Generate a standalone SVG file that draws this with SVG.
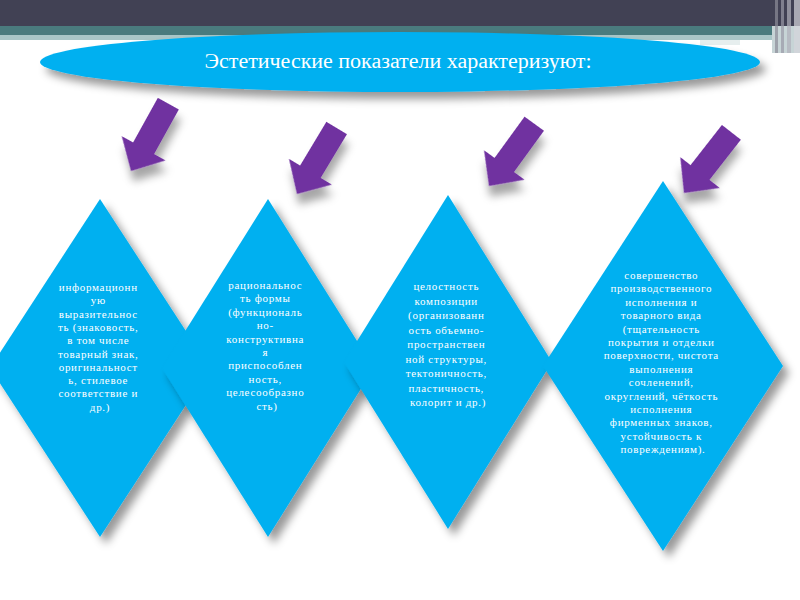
<svg xmlns="http://www.w3.org/2000/svg" width="800" height="600" viewBox="0 0 800 600">
<defs>
<filter id="sh" x="-20%" y="-20%" width="150%" height="150%">
<feDropShadow dx="6" dy="7" stdDeviation="4" flood-color="#000" flood-opacity="0.4"/>
</filter>
<filter id="sha" x="-40%" y="-40%" width="200%" height="200%">
<feDropShadow dx="7" dy="8" stdDeviation="4" flood-color="#000" flood-opacity="0.35"/>
</filter>
<polygon id="arr" points="0,0 -25,-26 -12,-26 -12,-77 12,-77 12,-26 25,-26"/>
</defs>
<style>
.dia{fill:#00B0F0;filter:url(#sh)}
.arrow{fill:#7030A0;filter:url(#sha)}
.t{font-family:"Liberation Serif","DejaVu Serif",serif;font-size:11px;fill:#fff;text-anchor:middle;letter-spacing:0.7px}
.title{font-family:"Liberation Serif","DejaVu Serif",serif;font-size:20px;fill:#fff;text-anchor:middle}
</style>
<rect width="800" height="600" fill="#fff"/>
<g id="header">
<rect x="0" y="0" width="800" height="26" fill="#414154"/>
<rect x="0" y="26" width="800" height="9" fill="#4a7b7e"/>
<rect x="0" y="35" width="775" height="5" fill="#a9c6c7"/>
<rect x="700" y="40" width="40" height="5" fill="#e6eeee"/>
<rect x="772" y="26" width="28" height="27" fill="#c7d4d6"/>
<rect x="775" y="0" width="3" height="53" fill="#8d8d99" opacity="0.7"/>
<rect x="781" y="0" width="3" height="53" fill="#9a9aa6" opacity="0.7"/>
<rect x="787" y="0" width="4" height="53" fill="#b0b0ba" opacity="0.7"/>
<rect x="794" y="0" width="6" height="53" fill="#d5d5dc" opacity="0.7"/>
</g>
<g id="title">
<ellipse cx="400" cy="62" rx="360" ry="30" fill="#00B0F0" filter="url(#sh)"/>
<text class="title" x="398" y="68" textLength="387" lengthAdjust="spacingAndGlyphs">Эстетические показатели характеризуют:</text>
</g>
<g id="connectors">
<use href="#arr" class="arrow" transform="translate(131,171) rotate(29)"/>
<use href="#arr" class="arrow" transform="translate(297,194) rotate(31)"/>
<use href="#arr" class="arrow" transform="translate(489,186) rotate(36)"/>
<use href="#arr" class="arrow" transform="translate(684,193) rotate(38)"/>
</g>
<g id="node1">
<polygon class="dia" points="100,199 210,368 100,537 -10,368"/>
<text class="t" x="100">
<tspan x="100" y="291">информационн</tspan>
<tspan x="100" y="304.3">ую</tspan>
<tspan x="100" y="317.6">выразительнос</tspan>
<tspan x="100" y="330.9">ть (знаковость,</tspan>
<tspan x="100" y="344.2">в том числе</tspan>
<tspan x="100" y="357.5">товарный знак,</tspan>
<tspan x="100" y="370.8">оригинальност</tspan>
<tspan x="100" y="384.1">ь, стилевое</tspan>
<tspan x="100" y="397.4">соответствие и</tspan>
<tspan x="100" y="410.7">др.)</tspan>
</text>
</g>
<g id="node2">
<polygon class="dia" points="268,199 374,368 268,537 162,368"/>
<text class="t">
<tspan x="267" y="289">рациональнос</tspan>
<tspan x="267" y="302.4">ть формы</tspan>
<tspan x="267" y="315.8">(функциональ</tspan>
<tspan x="267" y="329.2">но-</tspan>
<tspan x="267" y="342.6">конструктивна</tspan>
<tspan x="267" y="356">я</tspan>
<tspan x="267" y="369.4">приспособлен</tspan>
<tspan x="267" y="382.8">ность,</tspan>
<tspan x="267" y="396.2">целесообразно</tspan>
<tspan x="267" y="409.6">сть)</tspan>
</text>
</g>
<g id="node3">
<polygon class="dia" points="448,195 552,362 448,529 344,362"/>
<text class="t">
<tspan x="448" y="290">целостность</tspan>
<tspan x="448" y="304.5">композиции</tspan>
<tspan x="448" y="319">(организованн</tspan>
<tspan x="448" y="333.5">ость объемно-</tspan>
<tspan x="448" y="348">пространствен</tspan>
<tspan x="448" y="362.5">ной структуры,</tspan>
<tspan x="448" y="377">тектоничность,</tspan>
<tspan x="448" y="391.5">пластичность,</tspan>
<tspan x="448" y="406">колорит и др.)</tspan>
</text>
</g>
<g id="node4">
<polygon class="dia" points="663,181 783,366 663,551 543,366"/>
<text class="t">
<tspan x="663" y="279">совершенство</tspan>
<tspan x="663" y="292.4">производственного</tspan>
<tspan x="663" y="305.8">исполнения и</tspan>
<tspan x="663" y="319.2">товарного вида</tspan>
<tspan x="663" y="332.6">(тщательность</tspan>
<tspan x="663" y="346">покрытия и отделки</tspan>
<tspan x="663" y="359.4">поверхности, чистота</tspan>
<tspan x="663" y="372.8">выполнения</tspan>
<tspan x="663" y="386.2">сочленений,</tspan>
<tspan x="663" y="399.6">округлений, чёткость</tspan>
<tspan x="663" y="413">исполнения</tspan>
<tspan x="663" y="426.4">фирменных знаков,</tspan>
<tspan x="663" y="439.8">устойчивость к</tspan>
<tspan x="663" y="453.2">повреждениям).</tspan>
</text>
</g>
</svg>
